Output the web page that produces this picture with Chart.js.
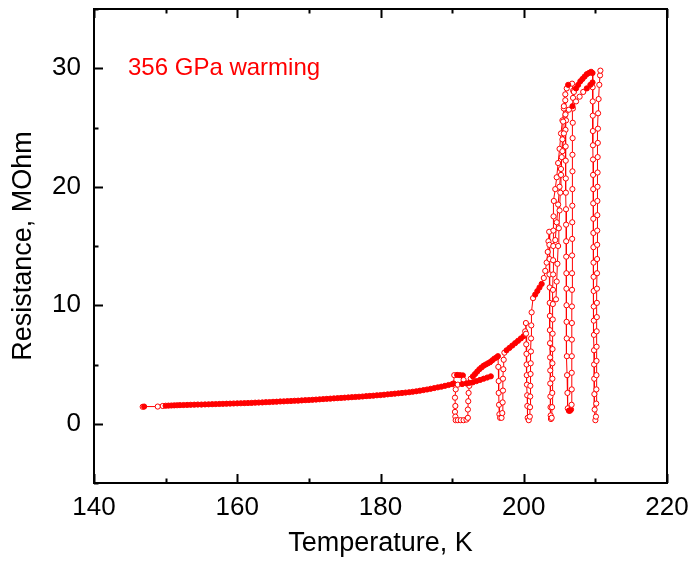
<!DOCTYPE html>
<html>
<head>
<meta charset="utf-8">
<script src="https://cdn.jsdelivr.net/npm/chart.js@4"></script>
<style>
  html, body { margin: 0; padding: 0; background: #fff; }
  canvas { display: block; }
</style>
</head>
<body>
<canvas id="chart" width="691" height="562"></canvas>
<script>
// --- data; null breaks the line
const temps = [
  // slow baseline 147-190 K
  146.8, 147.0, 148.9, 149.6, 150.0, 150.4, 150.8, 151.2, 151.6, 152.0,
  152.5, 153.0, 153.5, 154.0, 154.5, 155.0, 155.5, 156.0, 156.5, 157.0,
  157.5, 158.0, 158.5, 159.0, 159.5, 160.0, 160.5, 161.0, 161.5, 162.0,
  162.5, 163.0, 163.5, 164.0, 164.5, 165.0, 165.5, 166.0, 166.5, 167.0,
  167.5, 168.0, 168.5, 169.0, 169.5, 170.0, 170.5, 171.0, 171.5, 172.0,
  172.5, 173.0, 173.5, 174.0, 174.5, 175.0, 175.5, 176.0, 176.5, 177.0,
  177.5, 178.0, 178.5, 179.0, 179.5, 180.0, 180.5, 181.0, 181.5, 182.0,
  182.5, 183.0, 183.5, 184.0, 184.5, 185.0, 185.5, 186.0, 186.5, 187.0,
  187.5, 188.0, 188.5, 189.0, 189.5, 190.0,
  // dip near 191 K
  190.2, 190.3, 190.7, 191.1, 191.5, 191.6, 190.5, 190.4, 190.45, 190.4,
  190.45, 190.5, 190.8, 191.2, 191.6, 192.0, 192.2, 192.2, 192.25, 192.3,
  192.4, 192.6,
  // band to 196.4 K and drop
  192.9, 193.2, 193.5, 193.8, 194.1, 194.4, 194.7, 195.0, 195.3, 195.6,
  195.9, 196.2, 196.4, 196.45, 196.5, 196.5, 196.55, 196.6, 196.7, 196.9,
  197.0, 197.05, 197.1, 197.1, 197.15, 197.2, 197.3,
  // band to 200.3 K and drop
  197.6, 198.0, 198.4, 198.8, 199.2, 199.6, 200.0, 200.2, 200.3, 200.32,
  200.35, 200.38, 200.4, 200.42, 200.45, 200.48, 200.5, 200.55, 200.7, 200.85,
  200.88, 200.9, 200.92, 200.95, 200.97, 201.0, 201.02, 201.05, 201.1, 201.3,
  // rise to 203.55 K, drop and recovery
  201.6, 201.9, 202.2, 202.5, 202.8, 203.0, 203.2, 203.35, 203.45, 203.55,
  203.58, 203.6, 203.6, 203.62, 203.63, 203.65, 203.65, 203.67, 203.68, 203.7,
  203.7, 203.72, 203.74, 203.76, 203.8, 203.9,
  203.95, 203.98, 204.0, 204.0, 204.02, 204.03, 204.05, 204.06, 204.08, 204.1,
  204.1, 204.12, 204.14, 204.16, 204.2,
  // steep rise, drop near 206 K, recovery at 206.7 K
  204.4, 204.6, 204.8, 205.0, 205.2, 205.4, 205.6, 205.8,
  205.82, 205.83, 205.85, 205.86, 205.87, 205.88, 205.9, 205.91, 205.92, 205.93,
  205.95, 205.96, 205.97, 205.98, 206.0, 206.02, 206.05, 206.1,
  206.15, 206.3, 206.45, 206.6, 206.68,
  206.7, 206.7, 206.71, 206.72, 206.72, 206.73, 206.74, 206.74, 206.75, 206.76,
  206.77, 206.78, 206.79, 206.8, 206.8, 206.82, 206.84, 206.86, 206.88, 206.9,
  206.75,
  // top plateau, drop near 210 K and recovery
  207.0, 207.3, 207.6, 207.9, 208.2, 208.5, 208.8, 209.1, 209.4, 209.6,
  209.62, 209.63, 209.64, 209.65, 209.66, 209.67, 209.68, 209.7, 209.7, 209.71,
  209.72, 209.73, 209.74, 209.75, 209.76, 209.77, 209.78, 209.8, 209.81, 209.82,
  209.84, 209.86, 209.9, 210.0,
  210.08, 210.12, 210.14, 210.15, 210.16, 210.17, 210.18, 210.2, 210.21, 210.22,
  210.23, 210.24, 210.25, 210.26, 210.27, 210.28, 210.3, 210.31, 210.32, 210.34,
  210.36, 210.38, 210.45, 210.55, 210.65, 210.7,
  null,
  // lower branch 191-195.5 K
  190.8, 191.4, 192.0, 192.4, 192.9, 193.4, 193.9, 194.4, 194.9, 195.4,
  null,
  // second path 204-209.6 K
  204.4, 204.6, 204.8, 205.0, 205.2, 205.4, 205.6, 205.9, 206.3, 206.8,
  207.3, 207.8, 208.3, 208.8, 209.3, 209.6,
  null,
  // third path 204.5-206.2 K
  204.5, 204.6, 204.7, 204.8, 204.9, 205.0, 205.1, 205.2, 205.3, 205.4,
  205.5, 205.6, 205.8, 206.0, 206.2
];

const resistance = [
  1.43, 1.45, 1.45, 1.50, 1.52, 1.53, 1.54, 1.55, 1.56, 1.57,
  1.58, 1.59, 1.60, 1.61, 1.62, 1.62, 1.63, 1.64, 1.65, 1.66,
  1.67, 1.68, 1.69, 1.70, 1.71, 1.72, 1.73, 1.74, 1.75, 1.76,
  1.78, 1.79, 1.80, 1.82, 1.83, 1.85, 1.86, 1.88, 1.89, 1.91,
  1.92, 1.94, 1.95, 1.97, 1.99, 2.00, 2.02, 2.04, 2.06, 2.08,
  2.10, 2.12, 2.14, 2.16, 2.18, 2.20, 2.22, 2.24, 2.26, 2.28,
  2.30, 2.33, 2.35, 2.37, 2.40, 2.42, 2.45, 2.48, 2.51, 2.54,
  2.57, 2.60, 2.63, 2.66, 2.70, 2.74, 2.79, 2.84, 2.89, 2.95,
  3.01, 3.07, 3.13, 3.20, 3.27, 3.34,
  3.40, 4.10, 4.12, 4.10, 4.08, 3.70, 2.90, 2.20, 1.50, 1.00,
  0.60, 0.30, 0.30, 0.30, 0.30, 0.35, 0.50, 1.20, 1.90, 2.60,
  3.20, 3.80,
  4.00, 4.20, 4.40, 4.60, 4.75, 4.90, 5.00, 5.10, 5.20, 5.35,
  5.50, 5.60, 5.70, 4.80, 3.60, 2.60, 1.60, 0.80, 0.50, 0.50,
  0.90, 1.80, 2.80, 3.80, 4.60, 5.40, 6.00,
  6.20, 6.40, 6.60, 6.80, 7.00, 7.20, 7.40, 7.80, 8.50, 7.60,
  6.70, 5.90, 5.00, 4.10, 3.30, 2.40, 1.50, 0.50, 0.30, 0.60,
  1.40, 2.30, 3.20, 4.20, 5.10, 6.10, 7.20, 8.30, 9.40, 10.60,
  10.90, 11.20, 11.50, 11.80, 12.30, 12.90, 13.60, 14.50, 15.40, 16.20,
  15.10, 13.90, 12.60, 11.50, 10.20, 9.10, 7.90, 6.80, 5.60, 4.50,
  3.40, 2.30, 1.40, 0.70, 0.40, 0.50,
  1.40, 2.60, 3.80, 5.10, 6.30, 7.60, 8.80, 10.10, 11.30, 12.60,
  13.80, 15.00, 16.30, 17.50, 18.80,
  19.80, 20.80, 22.00, 23.20, 24.50, 25.60, 26.60, 27.30,
  26.10, 24.80, 23.40, 22.20, 20.70, 19.50, 18.10, 16.80, 15.40, 14.10,
  12.70, 11.40, 10.00, 8.60, 7.20, 5.70, 4.10, 2.60,
  1.30, 1.10, 1.10, 1.20, 1.60,
  2.90, 4.30, 5.70, 7.10, 8.50, 9.90, 11.30, 12.70, 14.20, 15.60,
  17.00, 18.40, 19.80, 21.30, 22.70, 24.10, 25.40, 26.60, 27.50, 28.10,
  28.70,
  28.00, 28.30, 28.60, 28.90, 29.10, 29.30, 29.50, 29.60, 29.70, 29.60,
  28.40, 27.20, 26.00, 24.70, 23.50, 22.30, 21.00, 19.80, 18.60, 17.30,
  16.10, 14.90, 13.60, 12.40, 11.20, 9.90, 8.70, 7.50, 6.20, 5.00,
  3.80, 2.50, 1.20, 0.30,
  0.60, 1.70, 2.90, 4.10, 5.30, 6.50, 7.80, 9.00, 10.20, 11.40,
  12.70, 13.90, 15.10, 16.30, 17.60, 18.80, 20.00, 21.20, 22.50, 23.70,
  24.90, 26.20, 27.40, 28.60, 29.40, 29.80,
  null,
  3.30, 3.35, 3.40, 3.45, 3.50, 3.60, 3.70, 3.80, 3.90, 4.00,
  null,
  15.50, 17.00, 18.50, 20.00, 21.50, 23.00, 24.50, 25.60, 26.50, 26.80,
  27.20, 27.60, 28.00, 28.30, 28.60, 28.80,
  null,
  10.50, 12.00, 13.50, 15.00, 16.50, 18.00, 19.50, 21.00, 22.50, 24.00,
  25.50, 26.80, 27.80, 28.30, 28.60
];

const xTicks = [140, 160, 180, 200, 220];
const xMinor = [150, 170, 190, 210];
const yTicks = [0, 10, 20, 30];
const yMinor = [-5, 5, 15, 25, 35];
const label = "356 GPa warming";

const RED = "#ff0000";
const FONT = "'Liberation Sans', Arial, sans-serif";

// where points pile up on each other the markers merge into a solid band
function markerFill(c) {
  const i = c.dataIndex;
  if (i === 0 || temps[i - 1] == null || temps[i] == null) return "#fff";
  const dT = Math.abs(temps[i] - temps[i - 1]);
  const dR = Math.abs(resistance[i] - resistance[i - 1]);
  return dT <= 0.6 && dR <= 0.35 && resistance[i] > 1 ? RED : "#fff";
}

// frame + inward ticks + annotation
const frame = {
  id: "frame",
  afterDatasetsDraw(chart) {
    const { ctx, chartArea: a, scales: { x, y } } = chart;
    ctx.save();
    ctx.strokeStyle = "#000";
    ctx.lineWidth = 2;
    ctx.strokeRect(a.left, a.top, a.right - a.left, a.bottom - a.top);
    ctx.beginPath();
    const tick = (v, len) => {
      const px = Math.round(x.getPixelForValue(v)) + 0.5;
      ctx.moveTo(px, a.bottom); ctx.lineTo(px, a.bottom - len);
      ctx.moveTo(px, a.top); ctx.lineTo(px, a.top + len);
    };
    xTicks.forEach(v => tick(v, 9));
    xMinor.forEach(v => tick(v, 4.5));
    const ytick = (v, len) => {
      const py = Math.round(y.getPixelForValue(v)) + 0.5;
      ctx.moveTo(a.left, py); ctx.lineTo(a.left + len, py);
    };
    yTicks.forEach(v => ytick(v, 9));
    yMinor.forEach(v => ytick(v, 4.5));
    ctx.stroke();

    ctx.fillStyle = RED;
    ctx.font = "24px " + FONT;
    ctx.textBaseline = "middle";
    ctx.fillText(label, x.getPixelForValue(144.75), y.getPixelForValue(30));
    ctx.restore();
  }
};

new Chart(document.getElementById("chart"), {
  type: "line",
  data: {
    datasets: [{
      data: temps.map((t, i) => ({ x: t, y: resistance[i] })),
      borderColor: RED,
      borderWidth: 1,
      pointRadius: 2.6,
      pointBorderWidth: 1,
      pointBorderColor: RED,
      pointBackgroundColor: markerFill,
      spanGaps: false,
      tension: 0
    }]
  },
  options: {
    responsive: false,
    animation: false,
    devicePixelRatio: 1,
    layout: { padding: { top: 9, right: 24, left: 0, bottom: 0 } },
    plugins: { legend: { display: false }, tooltip: { enabled: false } },
    scales: {
      x: {
        type: "linear", min: 140, max: 220,
        afterBuildTicks: s => { s.ticks = xTicks.map(v => ({ value: v })); },
        afterFit: s => { s.height = 79; s.paddingLeft = 0; s.paddingRight = 0; },
        grid: { display: false, drawTicks: false },
        border: { display: false },
        ticks: { color: "#000", padding: 9, font: { family: FONT, size: 26 } },
        title: {
          display: true, text: "Temperature, K", color: "#000",
          font: { family: FONT, size: 27 }, padding: { top: 0, bottom: 2 }
        }
      },
      y: {
        type: "linear", min: -5, max: 35,
        afterBuildTicks: s => { s.ticks = yTicks.map(v => ({ value: v })); },
        afterFit: s => { s.width = 94; s.paddingTop = 0; s.paddingBottom = 0; },
        grid: { display: false, drawTicks: false },
        border: { display: false },
        ticks: { color: "#000", padding: 13, font: { family: FONT, size: 26 } },
        title: {
          display: true, text: "Resistance, MOhm", color: "#000",
          font: { family: FONT, size: 27 }, padding: { top: 7, bottom: 0 }
        }
      }
    }
  },
  plugins: [frame]
});
</script>
</body>
</html>
